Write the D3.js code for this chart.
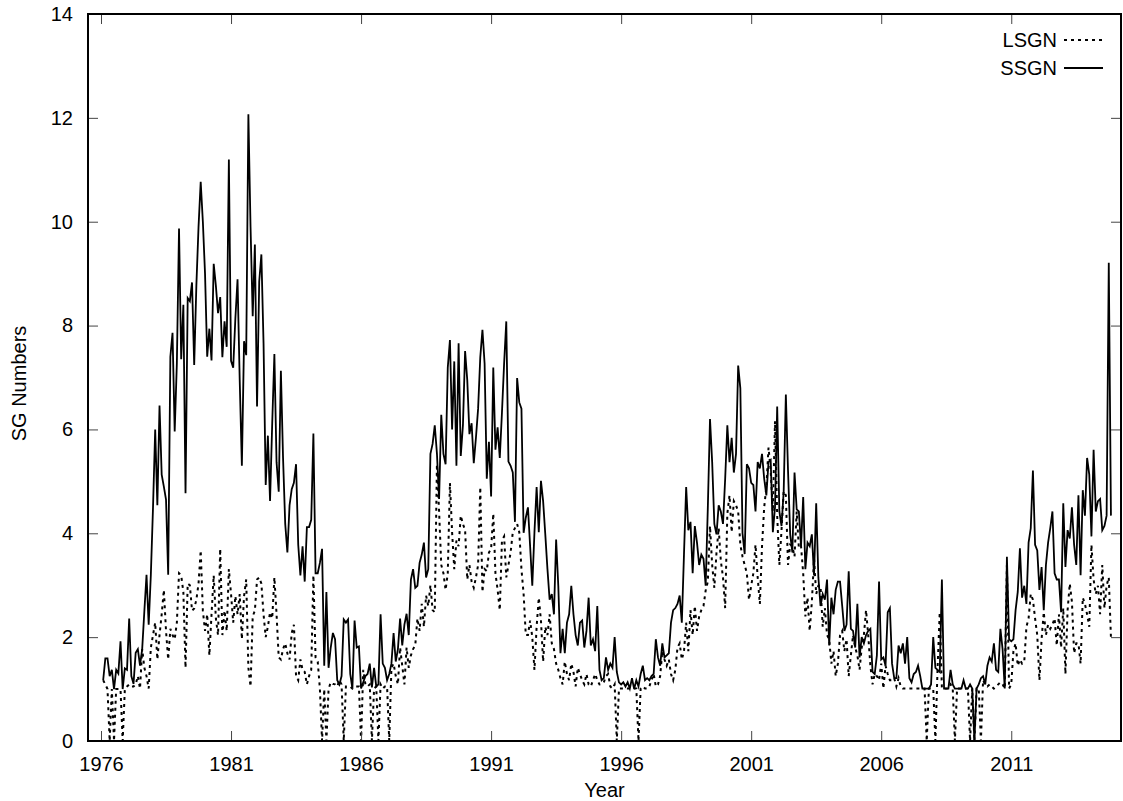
<!DOCTYPE html>
<html lang="en">
<head>
  <meta charset="UTF-8">
  <title>SG Numbers</title>
  <style>
    body { margin: 0; background: #fff; }
    svg { display: block; font-family: "Liberation Sans", Arial, sans-serif; }
    text { fill: #000; font-size: 20px; }
  </style>
</head>
<body>
  <svg id="chart" width="1123" height="801"></svg>

  <script src="https://d3js.org/d3.v7.min.js"></script>
  <script>
    // monthly values, first month = Jan 1976, one row per year
    const startYear = 1976;

    const ssgn = [
      1.17, 1.59, 1.59, 1.25, 1.37, 1.0, 1.37, 1.3, 1.92, 1.0, 1.4, 1.37,
      2.36, 1.25, 1.1, 1.7, 1.77, 1.45, 1.77, 2.5, 3.2, 2.24, 3.2, 4.5,
      6.0, 4.54, 6.46, 5.13, 4.9, 4.65, 3.2, 7.4, 7.86, 5.96, 7.27, 9.87,
      7.35, 8.4, 4.77, 8.53, 8.47, 8.83, 7.24, 8.77, 9.9, 10.77, 10.0, 9.0,
      7.4, 7.94, 7.33, 9.19, 8.77, 8.24, 8.55, 7.39, 8.08, 7.59, 11.2, 7.32,
      7.19, 8.14, 8.89, 6.95, 5.3, 7.7, 7.43, 12.07, 9.9, 8.18, 9.56, 6.44,
      8.85, 9.37, 7.66, 4.93, 5.88, 4.62, 6.12, 7.45, 5.37, 4.8, 7.13, 5.45,
      4.18, 3.63, 4.54, 4.85, 4.97, 5.33, 3.78, 3.19, 3.75, 3.07, 4.12, 4.12,
      4.26, 5.92, 3.23, 3.23, 3.43, 3.7, 1.45, 2.87, 1.41, 1.8, 2.08, 1.96,
      1.17, 1.09, 1.25, 2.34, 2.28, 2.34, 1.29, 1.01, 2.32, 1.8, 1.82, 1.01,
      1.13, 1.25, 1.29, 1.49, 1.03, 1.41, 1.05, 1.09, 2.44, 1.49, 1.41, 1.17,
      1.29, 1.49, 2.08, 1.53, 1.77, 2.36, 1.84, 2.24, 2.45, 2.04, 3.11, 3.31,
      2.95, 2.99, 3.43, 3.59, 3.82, 3.15, 3.31, 5.53, 5.72, 6.08, 5.54, 4.66,
      6.28, 5.53, 5.33, 7.19, 7.72, 6.0, 7.31, 5.3, 7.66, 5.49, 6.08, 7.51,
      6.95, 5.91, 6.12, 5.35, 5.84, 6.4, 7.39, 7.92, 7.27, 5.05, 5.76, 4.71,
      7.19, 5.61, 6.04, 5.45, 6.32, 7.27, 8.08, 5.38, 5.3, 5.17, 4.22, 6.99,
      6.52, 6.4, 4.01, 4.3, 4.5, 3.75, 2.99, 4.02, 4.89, 4.02, 5.01, 4.62,
      3.98, 3.31, 2.72, 2.83, 2.44, 3.88, 2.99, 1.69, 2.16, 1.69, 2.28, 2.44,
      2.99, 2.44, 2.04, 1.84, 2.28, 2.32, 1.8, 2.12, 2.76, 1.84, 1.96, 1.73,
      2.6, 1.37, 1.17, 1.21, 1.61, 1.37, 1.49, 1.41, 2.0, 1.33, 1.13, 1.09,
      1.13, 1.05, 1.13, 1.01, 1.21, 1.0, 1.17, 1.05, 1.29, 1.45, 1.17, 1.21,
      1.17, 1.25, 1.29, 1.96, 1.61, 1.45, 1.88, 1.61, 1.65, 1.69, 2.28, 2.52,
      2.56, 2.64, 2.8, 2.28, 3.6, 4.89, 4.06, 4.22, 3.23, 4.14, 3.82, 3.39,
      3.59, 3.51, 2.99, 4.5, 6.2, 5.37, 4.18, 3.98, 4.54, 4.42, 4.18, 5.05,
      6.08, 5.37, 5.84, 5.17, 5.53, 7.23, 6.79, 4.0, 3.6, 5.33, 5.25, 4.97,
      4.93, 4.42, 5.37, 5.25, 5.53, 5.05, 4.73, 5.37, 5.41, 4.02, 4.5, 6.44,
      4.42, 4.14, 4.81, 6.67, 5.21, 3.98, 3.63, 5.17, 4.46, 4.42, 3.75, 4.7,
      3.31, 3.82, 3.75, 3.98, 3.19, 4.58, 3.15, 2.6, 2.83, 2.72, 3.11, 1.84,
      2.76, 2.44, 2.91, 3.07, 3.07, 2.6, 2.12, 2.24, 3.27, 2.16, 2.12, 1.8,
      2.64, 1.61, 2.0, 1.88, 2.04, 2.12, 2.16, 1.33, 1.29, 1.65, 3.07, 1.57,
      1.61, 1.45, 2.48, 2.56, 1.49, 1.21, 1.21, 1.84, 1.69, 1.88, 1.49, 2.0,
      1.21, 1.13, 1.29, 1.33, 1.45, 1.25, 1.01, 1.01, 1.01, 1.01, 1.09, 2.0,
      1.41, 1.37, 1.33, 3.11, 1.01, 1.01, 1.01, 1.37, 1.09, 1.01, 1.01, 1.01,
      1.01, 1.17, 1.01, 1.01, 1.09, 1.01, 0, 1.01, 1.09, 1.21, 1.25, 1.09,
      1.45, 1.61, 1.53, 1.88, 1.37, 1.33, 2.16, 1.77, 1.01, 3.55, 1.96, 1.92,
      1.96, 2.52, 2.87, 3.71, 2.76, 2.99, 2.64, 3.82, 4.1, 5.21, 3.78, 3.67,
      2.91, 3.35, 2.52, 3.39, 3.82, 4.1, 4.42, 3.23, 3.11, 3.11, 2.48, 4.58,
      3.35, 4.06, 3.9, 4.5, 3.78, 3.39, 4.73, 3.19, 4.83, 4.34, 5.45, 5.13,
      3.94, 5.61, 4.42, 4.62, 4.66, 4.06, 4.14, 4.34, 9.21, 4.34
    ];

    const lsgn = [
      1.17, 1.09, 1.0, 0, 1.0, 0, 1.0, 1.0, 1.0, 0, 1.0, 1.05,
      1.09, 1.05, 1.05, 1.09, 1.25, 1.01, 1.77, 1.41, 1.25, 1.01, 1.8, 2.04,
      2.28, 1.57, 2.04, 2.44, 2.91, 2.12, 1.57, 2.16, 2.04, 1.96, 2.28, 3.23,
      3.19, 2.87, 1.41, 3.03, 3.0, 2.51, 2.55, 2.72, 3.03, 3.67, 2.51, 2.12,
      2.44, 1.65, 2.44, 3.19, 2.36, 2.04, 3.7, 2.04, 2.51, 2.12, 3.31, 2.83,
      2.28, 2.79, 2.44, 2.83, 1.96, 2.79, 3.11, 1.41, 1.05, 2.4, 2.51, 3.11,
      3.15, 3.03, 2.44, 2.0, 2.2, 2.48, 2.36, 3.15, 2.44, 1.61, 1.57, 1.77,
      1.88, 1.69, 1.57, 2.08, 2.24, 1.25, 1.17, 1.57, 1.37, 1.33, 1.09, 1.25,
      1.37, 3.19, 1.61, 1.53, 1.0, 0, 1.0, 0, 1.0, 1.13, 1.1, 1.09,
      1.05, 1.17, 1.09, 0, 1.05, 1.05, 1.05, 1.01, 1.05, 1.05, 1.05, 0,
      1.37, 1.09, 1.05, 1.09, 0, 1.01, 1.05, 0, 1.09, 1.01, 1.05, 1.05,
      0, 1.41, 1.49, 1.25, 1.09, 1.8, 1.45, 1.09, 1.8, 1.41, 1.65, 1.77,
      1.84, 2.36, 2.12, 2.64, 2.2, 2.8, 2.6, 3.0, 2.52, 2.48, 5.33, 4.42,
      3.39, 3.23, 2.91, 3.23, 4.97, 4.02, 3.31, 3.86, 3.75, 4.34, 4.18, 4.06,
      3.11, 3.39, 3.07, 2.95, 3.15, 3.39, 4.89, 2.87, 3.31, 3.27, 3.63, 3.7,
      4.38, 3.23, 2.91, 2.52, 3.86, 3.94, 3.15, 3.39, 3.63, 4.02, 4.1, 4.18,
      4.02, 3.31, 2.83, 2.04, 2.04, 2.32, 2.0, 1.37, 2.2, 2.76, 2.32, 1.53,
      2.2, 2.04, 2.44, 1.88, 1.77, 1.49, 1.37, 1.21, 1.09, 1.53, 1.29, 1.17,
      1.49, 1.33, 1.05, 1.41, 1.29, 1.17, 1.09, 1.29, 1.09, 1.05, 1.17, 1.29,
      1.17, 1.09, 1.1, 1.13, 1.25, 1.29, 1.05, 1.01, 1.09, 0, 1.01, 1.01,
      1.01, 1.01, 1.01, 1.01, 1.01, 1.01, 1.01, 0, 1.01, 1.05, 1.01, 1.01,
      1.05, 1.17, 1.29, 1.05, 1.09, 1.25, 1.73, 1.57, 1.45, 1.57, 1.29, 1.17,
      1.37, 1.8, 1.88, 1.57, 1.73, 2.28, 1.73, 2.52, 2.04, 2.6, 2.12, 2.4,
      2.52, 2.6, 2.9, 3.07, 4.14, 3.39, 2.95, 3.63, 4.1, 3.47, 3.15, 2.56,
      4.38, 4.73, 4.02, 4.62, 4.54, 4.42, 3.78, 3.55, 3.39, 3.23, 2.72, 2.99,
      3.23, 3.78, 3.15, 2.64, 3.75, 4.5, 4.89, 5.65, 5.21, 4.42, 6.16, 4.34,
      3.39, 4.06, 4.81, 4.73, 3.39, 3.78, 3.75, 3.55, 4.42, 3.71, 3.75, 3.23,
      2.4, 2.76, 2.12, 2.68, 3.51, 2.83, 2.99, 2.99, 2.2, 2.56, 2.04, 1.96,
      1.49, 1.73, 1.25, 1.49, 2.04, 2.12, 1.73, 1.96, 1.25, 1.65, 2.04, 1.8,
      1.65, 1.37, 1.8, 2.04, 2.52, 2.04, 1.45, 1.09, 1.29, 1.25, 1.17, 1.49,
      1.01, 1.45, 1.29, 1.17, 1.17, 1.21, 1.05, 1.21, 1.05, 1.01, 1.01, 1.01,
      1.01, 1.01, 1.01, 1.01, 1.01, 1.01, 1.01, 1.01, 0, 1.01, 1.01, 1.01,
      0, 1.4, 2.48, 1.01, 1.01, 1.01, 1.01, 1.09, 1.01, 0, 1.01, 1.01,
      1.01, 1.01, 1.01, 1.01, 0, 1.01, 0, 1.01, 1.01, 0, 1.17, 1.09,
      1.05, 1.09, 1.05, 1.01, 1.05, 1.09, 1.13, 1.09, 1.01, 3.39, 1.01, 1.09,
      1.73, 1.88, 1.45, 1.57, 1.49, 1.53, 2.2, 2.36, 2.83, 2.72, 2.36, 2.04,
      1.17, 1.96, 2.48, 2.04, 2.24, 2.16, 2.24, 2.36, 1.84, 2.44, 1.8, 2.56,
      1.29, 2.52, 3.03, 2.68, 1.69, 1.88, 1.88, 1.49, 2.76, 2.64, 2.44, 2.2,
      3.78, 3.11, 2.83, 2.99, 2.44, 3.39, 2.56, 2.99, 3.15, 1.99
    ];

    const xTicks = [1976, 1981, 1986, 1991, 1996, 2001, 2006, 2011];
    const yTicks = [0, 2, 4, 6, 8, 10, 12, 14];

    const seriesNames = ["LSGN", "SSGN"];

    const plotLeft = 88, plotRight = 1121, plotTop = 14, plotBottom = 741;
    const tickLen = 10;

    const svg = d3.select("#chart");

    const x = d3.scaleLinear().domain([1975.5, 2015.22]).range([plotLeft, plotRight]);
    const y = d3.scaleLinear().domain([0, 14]).range([plotBottom, plotTop]);

    const monthX = (d, i) => x(startYear + (i + 1) / 12);

    svg.append("clipPath").attr("id", "plot-clip")
      .append("rect")
      .attr("x", plotLeft).attr("y", plotTop)
      .attr("width", plotRight - plotLeft).attr("height", plotBottom - plotTop);

    const line = d3.line().x(monthX).y(d => y(d));

    const plot = svg.append("g").attr("clip-path", "url(#plot-clip)");

    plot.append("path")
      .datum(lsgn)
      .attr("fill", "none")
      .attr("stroke", "#000")
      .attr("stroke-width", 2)
      .attr("stroke-dasharray", "3,4")
      .attr("d", line);

    plot.append("path")
      .datum(ssgn)
      .attr("fill", "none")
      .attr("stroke", "#000")
      .attr("stroke-width", 1.8)
      .attr("d", line);

    // axes: ticks inward on all four sides (mirrored)
    const bottomAxis = d3.axisBottom(x).tickValues(xTicks).tickFormat(d3.format("d"))
      .tickSizeInner(-tickLen).tickSizeOuter(0).tickPadding(16);
    const topAxis = d3.axisTop(x).tickValues(xTicks).tickFormat("")
      .tickSizeInner(-tickLen).tickSizeOuter(0);
    const leftAxis = d3.axisLeft(y).tickValues(yTicks).tickFormat(d3.format("d"))
      .tickSizeInner(-tickLen).tickSizeOuter(0).tickPadding(15);
    const rightAxis = d3.axisRight(y).tickValues(yTicks).tickFormat("")
      .tickSizeInner(-tickLen).tickSizeOuter(0);

    function styleAxis(g) {
      g.select(".domain").remove();
      g.selectAll(".tick line").attr("stroke", "#444").attr("stroke-width", 1);
      g.selectAll(".tick text")
        .attr("fill", "#000")
        .style("font-size", "20px")
        .style("font-family", "'Liberation Sans', Arial, sans-serif");
    }

    svg.append("g").attr("class", "axis-x").attr("transform", `translate(0,${plotBottom})`).call(bottomAxis).call(styleAxis);
    svg.append("g").attr("class", "axis-x").attr("transform", `translate(0,${plotTop})`).call(topAxis).call(styleAxis);
    svg.append("g").attr("class", "axis-y").attr("transform", `translate(${plotLeft},0)`).call(leftAxis).call(styleAxis);
    svg.append("g").attr("class", "axis-y").attr("transform", `translate(${plotRight},0)`).call(rightAxis).call(styleAxis);

    // no tick marks on the frame corners
    svg.selectAll(".axis-y .tick").filter(d => d === 0 || d === 14).select("line").remove();

    svg.append("rect")
      .attr("x", plotLeft).attr("y", plotTop)
      .attr("width", plotRight - plotLeft).attr("height", plotBottom - plotTop)
      .attr("fill", "none")
      .attr("stroke", "#000")
      .attr("stroke-width", 2);

    svg.append("text")
      .attr("x", (plotLeft + plotRight) / 2)
      .attr("y", 797)
      .attr("text-anchor", "middle")
      .text("Year");

    svg.append("text")
      .attr("transform", `translate(26,${(plotTop + plotBottom) / 2 + 6}) rotate(-90)`)
      .attr("text-anchor", "middle")
      .text("SG Numbers");

    // legend
    const legend = svg.append("g");
    seriesNames.forEach((name, i) => {
      const ly = 40 + i * 28;
      legend.append("text")
        .attr("x", 1057)
        .attr("y", ly + 7)
        .attr("text-anchor", "end")
        .text(name);
      legend.append("line")
        .attr("x1", 1064).attr("x2", 1103)
        .attr("y1", ly).attr("y2", ly)
        .attr("stroke", "#000")
        .attr("stroke-width", name === "LSGN" ? 2 : 1.8)
        .attr("stroke-dasharray", name === "LSGN" ? "3,4" : null);
    });
  </script>
</body>
</html>
